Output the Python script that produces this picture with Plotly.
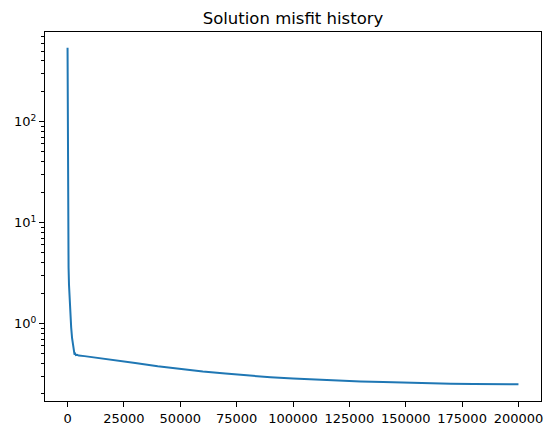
import plotly.graph_objects as go

iterations = [0, 30, 60, 100, 150, 220, 320, 450, 650, 900, 1200, 1600, 2000, 2400, 2800, 3100, 3400, 3700,
              4200, 5000, 7500, 10000, 15000, 20000, 26000, 30000, 40000, 50000, 55000, 60000, 70000,
              80000, 90000, 100000, 110000, 120000, 130000, 140000, 150000, 160000, 170000, 180000,
              190000, 200000]
misfit = [540, 200, 80, 35, 16, 9, 5.5, 3.6, 2.4, 1.7, 1.25, 0.92, 0.72, 0.6, 0.52, 0.49, 0.5, 0.485,
          0.488, 0.48, 0.474, 0.465, 0.45, 0.435, 0.417, 0.405, 0.376, 0.353, 0.342, 0.333, 0.318,
          0.304, 0.293, 0.284, 0.277, 0.271, 0.266, 0.262, 0.258, 0.255, 0.253, 0.251, 0.25, 0.249]

x_ticks = [0, 25000, 50000, 75000, 100000, 125000, 150000, 175000, 200000]
x_ticklabels = [str(v) for v in x_ticks]
y_ticks = [1, 10, 100]
y_ticklabels = ["10<sup>0</sup>", "10<sup>1</sup>", "10<sup>2</sup>"]
y_minor = [m * 10 ** e for e in (-1, 0, 1, 2) for m in range(2, 10)]

fig = go.Figure()
fig.add_trace(go.Scatter(x=iterations, y=misfit, mode="lines",
                         line=dict(color="#1f77b4", width=2), showlegend=False))

axis_common = dict(showline=True, linecolor="black", linewidth=1, mirror=True,
                   ticks="outside", ticklen=5, tickwidth=1, tickcolor="black",
                   showgrid=False, zeroline=False, automargin=False,
                   tickfont=dict(family="DejaVu Sans", size=13, color="black"))

fig.update_layout(
    width=546, height=427,
    margin=dict(l=37, r=13, t=24, b=34),
    paper_bgcolor="white", plot_bgcolor="white",
    title=dict(text="Solution misfit history", x=0.5, xref="paper", xanchor="center",
               y=1 - 10 / 427, yref="container", yanchor="middle",
               font=dict(family="DejaVu Sans", size=16.5, color="black")),
    xaxis=dict(range=[-10000, 210000], tickmode="array", tickvals=x_ticks,
               ticktext=x_ticklabels, **axis_common),
    yaxis=dict(type="log", range=[-0.769, 2.888], tickmode="array", tickvals=y_ticks,
               ticktext=y_ticklabels,
               minor=dict(tickmode="array", tickvals=y_minor, ticks="outside", ticklen=3,
                          tickwidth=1, tickcolor="black", showgrid=False),
               **axis_common),
)

fig.write_html("out.html")
